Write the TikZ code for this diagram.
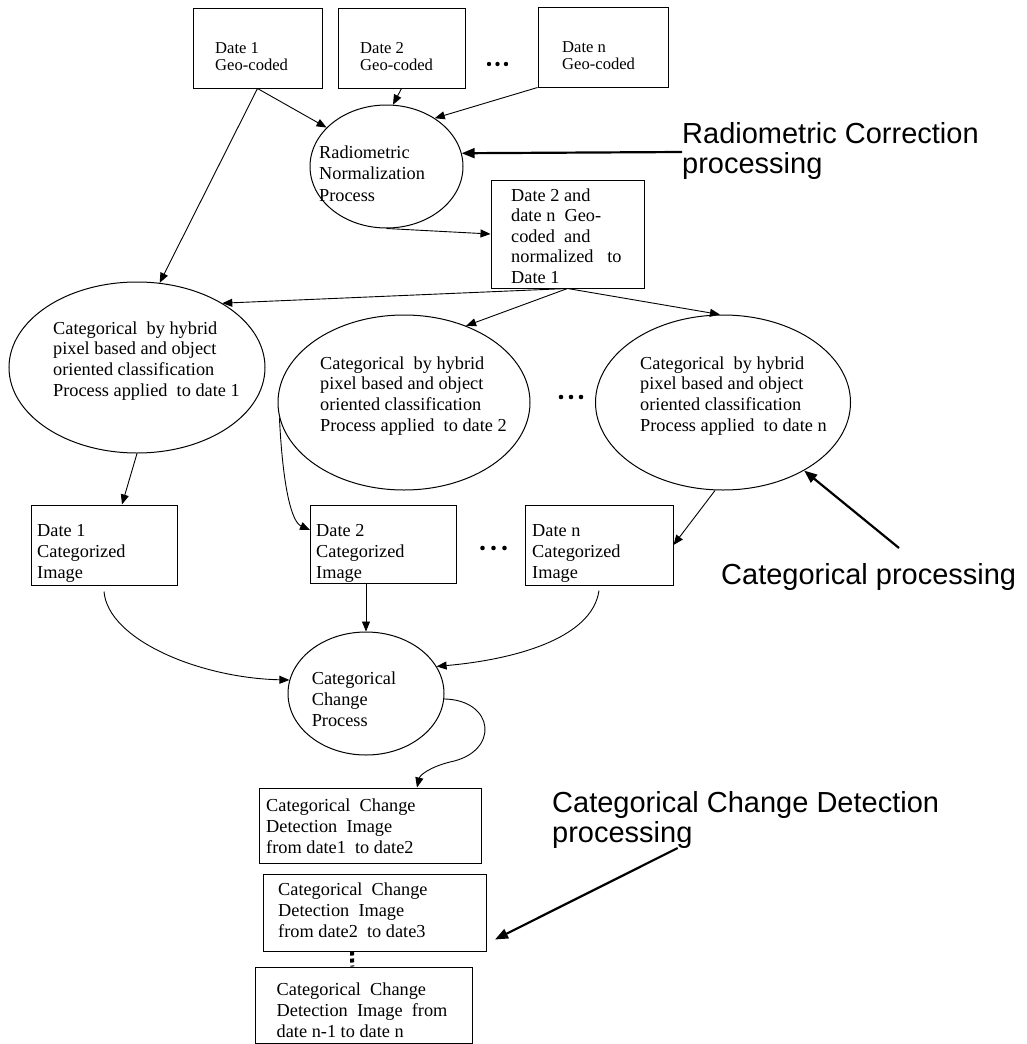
\documentclass[tikz,border=0pt]{standalone}
\usepackage{fontspec}
\setmainfont{Liberation Serif}
\newfontfamily\labfont{Liberation Sans}
\usetikzlibrary{shapes.geometric,arrows.meta}
\newcommand{\ml}[1]{\begin{tabular}[t]{@{}l@{}}#1\end{tabular}}
\tikzset{
  box/.style={draw, line width=1pt, rectangle, inner sep=0pt},
  oval/.style={draw, line width=1pt, ellipse, inner sep=0pt},
  txt/.style={anchor=base west, inner sep=0pt, font=\fontsize{18.3}{21}\selectfont},
  toptxt/.style={anchor=base west, inner sep=0pt, font=\fontsize{16.6}{17}\selectfont},
  lab/.style={anchor=base west, inner sep=0pt, font=\labfont\fontsize{29}{30}\selectfont},
  arr/.style={line width=0.9pt, -{Triangle[length=10pt,width=8pt]}},
  thickarr/.style={line width=2.2pt, -{Triangle[length=13pt,width=10pt]}},
  vdots/.style={line width=4pt, dash pattern=on 4pt off 3pt},
}
\begin{document}
\begin{tikzpicture}[x=1pt,y=-1pt]
\fill[white] (0,0) rectangle (1026,1044);
\useasboundingbox (0,0) rectangle (1026,1044);

% top boxes
\node[box, minimum width=129pt, minimum height=80pt] (b1) at (257.5,48) {};
\node[box, minimum width=127pt, minimum height=80pt] (b2) at (401.5,48) {};
\node[box, minimum width=130pt, minimum height=80pt] (bn) at (603,47) {};
\node[toptxt] (t1) at (215,53.5) {\ml{Date 1\\Geo-coded}};
\node[toptxt] (t2) at (360,53.5) {\ml{Date 2\\Geo-coded}};
\node[toptxt] (tn) at (562,52.5) {\ml{Date n\\Geo-coded}};
\foreach \i in {0,1,2} \fill (489+\i*8.5,64) circle (2.2pt);

% radiometric
\node[oval, minimum width=153pt, minimum height=123pt] (rad) at (386.5,166.5) {};
\node[txt, font=\fontsize{18.3}{21.5}\selectfont] (trad) at (319,158) {\ml{Radiometric\\Normalization\\Process}};
\node[box, minimum width=153pt, minimum height=108pt] (bnorm) at (567.5,234) {};
\node[txt, font=\fontsize{18.3}{20.5}\selectfont] (tnorm) at (511,201) {\ml{Date 2 and\\date n\ \ Geo-\\coded\ \ and\\normalized\ \ \ to\\Date 1}};
\node[lab] (radlab) at (682,143) {\ml{Radiometric Correction\\processing}};

% classification ellipses
\node[oval, minimum width=256pt, minimum height=171pt] (c1) at (137,367.5) {};
\node[oval, minimum width=252pt, minimum height=175pt] (c2) at (404,402.5) {};
\node[oval, minimum width=255pt, minimum height=175pt] (cn) at (723,402.5) {};
\node[txt, font=\fontsize{18.3}{20.7}\selectfont] (tc1) at (53,334) {\ml{Categorical\ \ by hybrid\\pixel based and object\\oriented classification\\Process applied\ \ to date 1}};
\node[txt, font=\fontsize{18.3}{20.7}\selectfont] (tc2) at (320,369) {\ml{Categorical\ \ by hybrid\\pixel based and object\\oriented classification\\Process applied\ \ to date 2}};
\node[txt, font=\fontsize{18.3}{20.7}\selectfont] (tcn) at (640,369) {\ml{Categorical\ \ by hybrid\\pixel based and object\\oriented classification\\Process applied\ \ to date n}};
\foreach \i in {0,1,2} \fill (561+\i*10,397) circle (2.3pt);
\node[lab] (catlab) at (721,584) {Categorical processing};
\coordinate (catarr) at (899,548);

% categorized images
\node[box, minimum width=146pt, minimum height=80pt] (d1) at (104,545) {};
\node[box, minimum width=146pt, minimum height=78pt] (d2) at (383.5,544) {};
\node[box, minimum width=148pt, minimum height=80pt] (dn) at (599,545) {};
\node[txt] (td1) at (37,536) {\ml{Date 1\\Categorized\\Image}};
\node[txt] (td2) at (316,536) {\ml{Date 2\\Categorized\\Image}};
\node[txt] (tdn) at (532,536) {\ml{Date n\\Categorized\\Image}};
\foreach \i in {0,1,2} \fill (482.5+\i*11,548) circle (2.3pt);

% change process
\node[oval, minimum width=156pt, minimum height=123pt] (chg) at (366,693.5) {};
\node[txt] (tchg) at (311.6,684) {\ml{Categorical\\Change\\Process}};

% change detection images
\node[box, minimum width=222pt, minimum height=75pt] (cd1) at (370,825.5) {};
\node[box, minimum width=223pt, minimum height=77pt] (cd2) at (375,912.5) {};
\node[box, minimum width=217pt, minimum height=76pt] (cd3) at (364.3,1005) {};
\node[txt] (tcd1) at (266,811) {\ml{Categorical\ \ Change\\Detection\ \ Image\\from date1\ \ to date2}};
\node[txt] (tcd2) at (278,895) {\ml{Categorical\ \ Change\\Detection\ \ Image\\from date2\ \ to date3}};
\node[txt] (tcd3) at (276.5,995) {\ml{Categorical\ \ Change\\Detection\ \ Image\ \ from\\date n-1 to date n}};
\node[lab] (cdlab) at (552,812) {\ml{Categorical Change Detection\\processing}};
\coordinate (cdarr) at (677.7,848);

% connectors
\draw[arr] (b1.south) -- (rad.147);
\draw[arr] (b1.south) -- (c1.75);
\draw[arr] (b2.south) -- (rad.84);
\draw[arr] (bn.south west) -- (rad.45);
\draw[thickarr] (radlab.west) -- (rad.10);
\draw[arr] (rad.south) -- (bnorm.west);
\draw[arr] (bnorm.south) -- (c1.37);
\draw[arr] (bnorm.south) -- (c2.51);
\draw[arr] (bnorm.south) -- (cn.92);
\draw[arr] (c1.south) -- ([xshift=18pt]d1.north);
\draw[arr] (c2.187) .. controls (283,490) and (292,522) .. ([yshift=14pt]d2.west);
\draw[arr] ([xshift=-8pt]cn.south) -- (dn.east);
\draw[thickarr] (catarr) -- (cn.-40);
\draw[arr] ([yshift=-6pt]d1.south) .. controls (108,640) and (200,678) .. (chg.170);
\draw[arr] (chg.north |- d2.south) -- (chg.north);
\draw[arr] ([yshift=-5pt]dn.south) .. controls (592,640) and (510,660) .. (chg.21);
\draw[arr] (chg.-4) .. controls (495,700) and (500,752) .. (450,762) .. controls (430,767) and (420,775) .. ([xshift=47pt]cd1.north);
\draw[thickarr] (cdarr) -- ([xshift=8pt,yshift=-27pt]cd2.east);
\draw[vdots] ([xshift=-23pt]cd2.south) -- ([xshift=-12pt]cd3.north);
\end{tikzpicture}
\end{document}
